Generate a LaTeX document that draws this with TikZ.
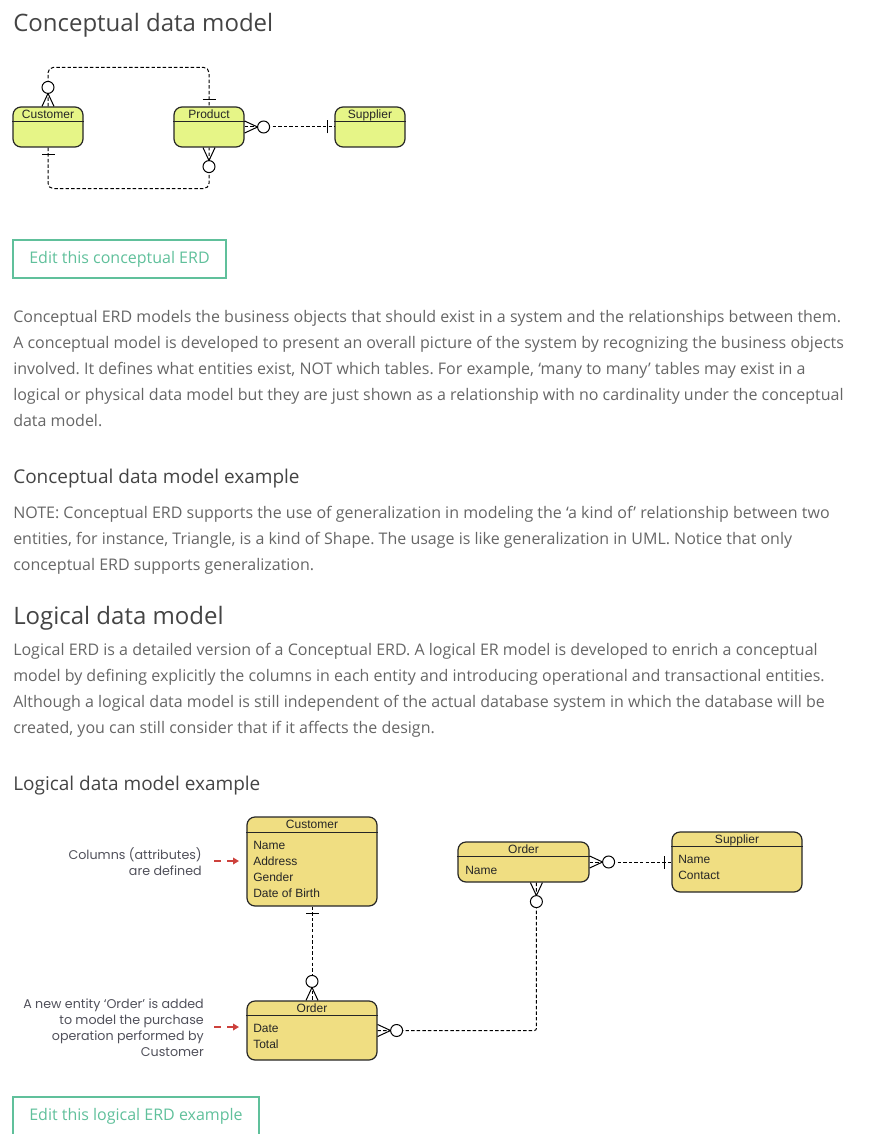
\documentclass[tikz,border=0pt]{standalone}
\usepackage{fontspec}
\setmainfont{Open Sans}
\newfontfamily\arialf{Liberation Sans}
\newfontfamily\annf{Poppins}
\usetikzlibrary{calc,arrows.meta}
\definecolor{headc}{RGB}{68,68,68}
\definecolor{bodyc}{RGB}{102,102,102}
\definecolor{btnc}{RGB}{96,192,155}
\definecolor{cfill}{RGB}{230,245,135}
\definecolor{lfill}{RGB}{240,222,130}
\definecolor{annc}{RGB}{80,80,90}
\definecolor{arrc}{RGB}{205,65,60}
\frenchspacing
\begin{document}
\begin{tikzpicture}[x=0.75pt,y=-0.75pt,
 hone/.style={anchor=base west, inner sep=0, text=headc, font=\fontsize{18}{22}\selectfont},
 htwo/.style={anchor=base west, inner sep=0, text=headc, font=\fontsize{14.25}{18}\selectfont},
 para/.style={anchor=base west, inner sep=0, text=bodyc, font=\fontsize{12}{14}\selectfont},
 btnbox/.style={draw=btnc, line width=0.9pt, inner sep=0, text=btnc, font=\fontsize{12}{14}\selectfont},
 ent/.style={draw=black!85, line width=0.9pt, rounded corners=6pt, inner sep=0},
 centity/.style={ent, fill=cfill},
 lentity/.style={ent, fill=lfill},
 etitle/.style={anchor=base, inner sep=0, font=\arialf\fontsize{9}{10}\selectfont, text=black!85},
 eattr/.style={anchor=west, inner sep=0, text height=6.5pt, text depth=0pt, font=\arialf\fontsize{9}{10}\selectfont, text=black!85},
 conn/.style={black, line width=0.75pt, dash pattern=on 2.6pt off 1.6pt},
 sym/.style={black, line width=0.75pt},
 annot/.style={anchor=base east, inner sep=0, text=annc, font=\annf\fontsize{9.5}{11}\selectfont},
 redarr/.style={draw=arrc, line width=1.1pt, dash pattern=on 5pt off 5pt, -{Triangle[length=4.5pt,width=5pt]}},
 crowo/.pic={\draw[sym] (0,-6) -- (13,0) -- (0,6); \draw[sym, fill=white] (19,0) circle[radius=6];},
 onebar/.pic={\draw[sym] (7,-6.5) -- (7,6.5);}
]
\useasboundingbox (0,0) rectangle (880,1134);

% ---------- headings and text ----------
\node[hone] (t1) at (13,32) {Conceptual data model};

% conceptual diagram
\node[centity, minimum width=52.5pt, minimum height=30pt] (cust) at (48,127) {};
\node[centity, minimum width=52.5pt, minimum height=30pt] (prod) at (209,127) {};
\node[centity, minimum width=52.5pt, minimum height=30pt] (supp) at (370,127) {};
\foreach \e/\t in {cust/Customer, prod/Product, supp/Supplier}{
  \draw[line width=0.9pt, black!85] ($(\e.north west)+(0,15)$) -- ($(\e.north east)+(0,15)$);
  \node[etitle] (\e-title) at ($(\e.north)+(0,11.8)$) {\t};
}
\draw[conn, rounded corners=4pt] (cust.north) |- ($(prod.north)+(0,-39)$) -- (prod.north);
\draw[conn, rounded corners=4pt] (cust.south) |- ($(prod.south)+(0,41)$) -- (prod.south);
\draw[conn] (prod.east) -- (supp.west);
\pic[rotate=90] at (cust.north) {crowo};
\pic[rotate=90] at (prod.north) {onebar};
\pic[rotate=-90] at (cust.south) {onebar};
\pic[rotate=-90] at (prod.south) {crowo};
\pic at (prod.east) {crowo};
\pic[rotate=180] at (supp.west) {onebar};

% button 1
\node[btnbox, minimum width=159.75pt, minimum height=28.5pt] (btn1) at (119.5,259) {Edit this conceptual ERD};

\node[para] (p1) at (13,322) {Conceptual ERD models the business objects that should exist in a system and the relationships between them.};
\node[para] (p2) at (13,348) {A conceptual model is developed to present an overall picture of the system by recognizing the business objects};
\node[para] (p3) at (13,374) {involved. It defines what entities exist, NOT which tables. For example, ‘many to many’ tables may exist in a};
\node[para] (p4) at (13,400) {logical or physical data model but they are just shown as a relationship with no cardinality under the conceptual};
\node[para] (p5) at (13,426) {data model.};

\node[htwo] (t2) at (13,483) {Conceptual data model example};
\node[para] (n1) at (13,518) {NOTE: Conceptual ERD supports the use of generalization in modeling the ‘a kind of’ relationship between two};
\node[para] (n2) at (13,544) {entities, for instance, Triangle, is a kind of Shape. The usage is like generalization in UML. Notice that only};
\node[para] (n3) at (13,570) {conceptual ERD supports generalization.};

\node[hone] (t3) at (13,624) {Logical data model};
\node[para] (l1) at (13,655) {Logical ERD is a detailed version of a Conceptual ERD. A logical ER model is developed to enrich a conceptual};
\node[para] (l2) at (13,681) {model by defining explicitly the columns in each entity and introducing operational and transactional entities.};
\node[para] (l3) at (13,707) {Although a logical data model is still independent of the actual database system in which the database will be};
\node[para] (l4) at (13,733) {created, you can still consider that if it affects the design.};

\node[htwo] (t4) at (13,790) {Logical data model example};

% ---------- logical diagram ----------
\node[lentity, minimum width=97.5pt, minimum height=66.75pt] (lcust) at (312,861.5) {};
\node[lentity, minimum width=98.25pt, minimum height=30pt] (lord1) at (523.5,862) {};
\node[lentity, minimum width=97.5pt, minimum height=45pt] (lsupp) at (737,862) {};
\node[lentity, minimum width=97.5pt, minimum height=44.25pt] (lord2) at (312,1030.5) {};
\foreach \e/\t/\h in {lcust/Customer/16, lord1/Order/15, lsupp/Supplier/15, lord2/Order/15}{
  \draw[line width=0.9pt, black!85] ($(\e.north west)+(0,\h)$) -- ($(\e.north east)+(0,\h)$);
  \node[etitle] (\e-title) at ($(\e.north)+(0,12)$) {\t};
}
\node[eattr] (a1) at (253,845) {Name};
\node[eattr] (a2) at (253,861) {Address};
\node[eattr] (a3) at (253,877) {Gender};
\node[eattr] (a4) at (253,893) {Date of Birth};
\node[eattr] (a5) at (465,870) {Name};
\node[eattr] (a6) at (678,859) {Name};
\node[eattr] (a7) at (678,875) {Contact};
\node[eattr] (a8) at (253,1028) {Date};
\node[eattr] (a9) at (253,1044) {Total};

\coordinate (o1b) at ($(lord1.south west)+(79,0)$);
\draw[conn] (lcust.south) -- (lord2.north);
\draw[conn] (lord1.east) -- (lsupp.west);
\draw[conn, rounded corners=1.5pt] (o1b) |- (lord2.east);
\pic[rotate=-90] at (lcust.south) {onebar};
\pic[rotate=90] at (lord2.north) {crowo};
\pic at (lord1.east) {crowo};
\pic[rotate=180] at (lsupp.west) {onebar};
\pic[rotate=-90] at (o1b) {crowo};
\pic at (lord2.east) {crowo};

% annotations
\node[annot] (c1) at (202,859) {Columns (attributes)};
\node[annot] (c2) at (202,875) {are defined};
\coordinate (r1s) at (214,861);
\coordinate (r1e) at (239,861);
\draw[redarr] (r1s) -- (r1e);
\node[annot] (d1) at (204,1008) {A new entity ‘Order’ is added};
\node[annot] (d2) at (204,1024) {to model the purchase};
\node[annot] (d3) at (204,1040) {operation performed by};
\node[annot] (d4) at (204,1056) {Customer};
\coordinate (r2s) at (214,1027);
\coordinate (r2e) at (239,1027);
\draw[redarr] (r2s) -- (r2e);

% button 2
\node[btnbox, minimum width=184.5pt, minimum height=33pt] (btn2) at (136,1119) {};
\node[inner sep=0, text=btnc, font=\fontsize{12}{14}\selectfont] (btn2t) at (136,1116) {Edit this logical ERD example};
\end{tikzpicture}
\end{document}
